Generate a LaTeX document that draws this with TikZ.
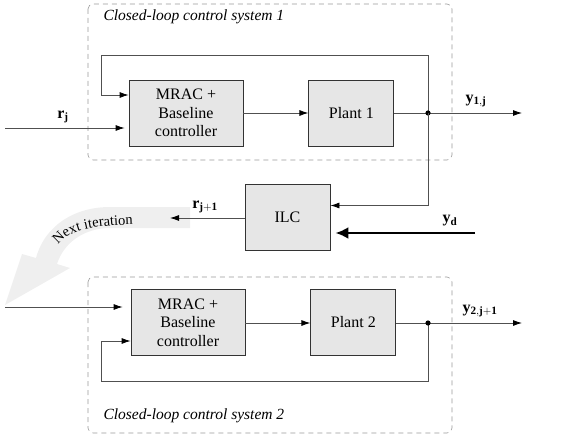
\documentclass[tikz,border=0pt]{standalone}
\usepackage{fontspec}
\setmainfont{Liberation Serif}
\usetikzlibrary{positioning,arrows.meta,decorations.text}
\definecolor{boxfill}{HTML}{E6E6E6}
\definecolor{linegray}{HTML}{505050}
\definecolor{dashgray}{HTML}{9A9A9A}
\definecolor{nextgray}{HTML}{EFEFEF}

\begin{document}
\begin{tikzpicture}[
x=1pt,y=-1pt,
font=\fontsize{16}{18.5}\selectfont,
block/.style={
  draw=black!80,
  fill=boxfill,
  line width=0.8pt,
  align=center,
  minimum height=66pt,
  inner sep=2pt
},
conn/.style={
  draw=linegray,
  line width=0.8pt,
  -{Latex[length=9pt,width=6pt,color=black]}
},
group/.style={
  draw=dashgray,
  dashed,
  dash pattern=on 5pt off 4pt,
  rounded corners=5pt,
  line width=0.6pt
},
title/.style={
  anchor=west,
  font=\fontsize{15.5}{18}\selectfont\itshape
},
node distance=65pt
]
\useasboundingbox (0,0) rectangle (583,441);

% grouping frames
\draw[group] (88,4) rectangle (452,160);
\draw[group] (88,277) rectangle (452,433);
\node[title] (titleA) at (100,17) {Closed-loop control system 1};
\node[title] (titleB) at (100,416) {Closed-loop control system 2};

% next iteration arrow
\fill[nextgray] (190,207) -- (110,207) .. controls (75,207) and (45,225) .. (36,258)
  -- (22,254) -- (5,305) -- (70,268) -- (57,264)
  .. controls (64,242) and (85,228) .. (110,228) -- (190,228) -- cycle;
\path[decorate,decoration={text along path,text align=left,
  text={|\fontsize{14.5}{17}\selectfont|Next iteration}}]
  (58,245) .. controls (70,231) and (84,224) .. (165,224);

% blocks
\node[block,minimum width=114pt] at (186,113) (ctrlA)
  {MRAC +\\Baseline\\controller};
\node[block,minimum width=85pt,right=of ctrlA] (plantA) {Plant 1};
\node[block,minimum width=85pt] at (287.5,217.5) (ilc) {ILC};
\node[block,minimum width=114pt] at (188,322.5) (ctrlB)
  {MRAC +\\Baseline\\controller};
\node[block,minimum width=85pt,right=of ctrlB] (plantB) {Plant 2};

\coordinate (jA) at (428,113);
\coordinate (jB) at (428,323);
\coordinate (inA) at (5,128);
\coordinate (inB) at (5,307);
\coordinate (outA) at (522,113);
\coordinate (outB) at (522,323);
\coordinate (fbA) at (101,55);
\coordinate (fbB) at (101,381);
\coordinate (ydin) at (475,233);
\coordinate (rnext) at (170,218);

% system 1
\draw[conn] (ctrlA) -- (plantA);
\draw[conn] (plantA) -- (outA);
\draw[conn] (jA) |- (fbA) |- ([yshift=18pt]ctrlA.west);
\draw[conn,shorten >=4pt] (inA) -- (inA -| ctrlA.west);
\fill (jA) circle (2.6pt);
\node at (63,117) (rj) {$\mathbf{r_j}$};
\node at (476,101) (y1) {$\mathbf{y_{1,j}}$};

% ILC
\draw[conn] (jA) |- ([yshift=12pt]ilc.east);
\draw[draw=black,line width=2.6pt,shorten >=5pt,
  -{Latex[length=13pt,width=12pt]}] (ydin) -- (ydin -| ilc.east);
\draw[conn] (ilc.west |- rnext) -- (rnext);
\node at (205,207) (rj1) {$\mathbf{r_{j+1}}$};
\node at (450,221) (yd) {$\mathbf{y_d}$};

% system 2
\draw[conn,shorten >=8pt] (inB) -- (inB -| ctrlB.west);
\draw[conn] (ctrlB.east |- jB) -- (plantB.west |- jB);
\draw[conn] (plantB.east |- jB) -- (outB);
\draw[conn] (jB) |- (fbB) |- ([yshift=-18.5pt]ctrlB.west);
\fill (jB) circle (2.6pt);
\node at (480,311) (y2) {$\mathbf{y_{2,j+1}}$};
\end{tikzpicture}
\end{document}
